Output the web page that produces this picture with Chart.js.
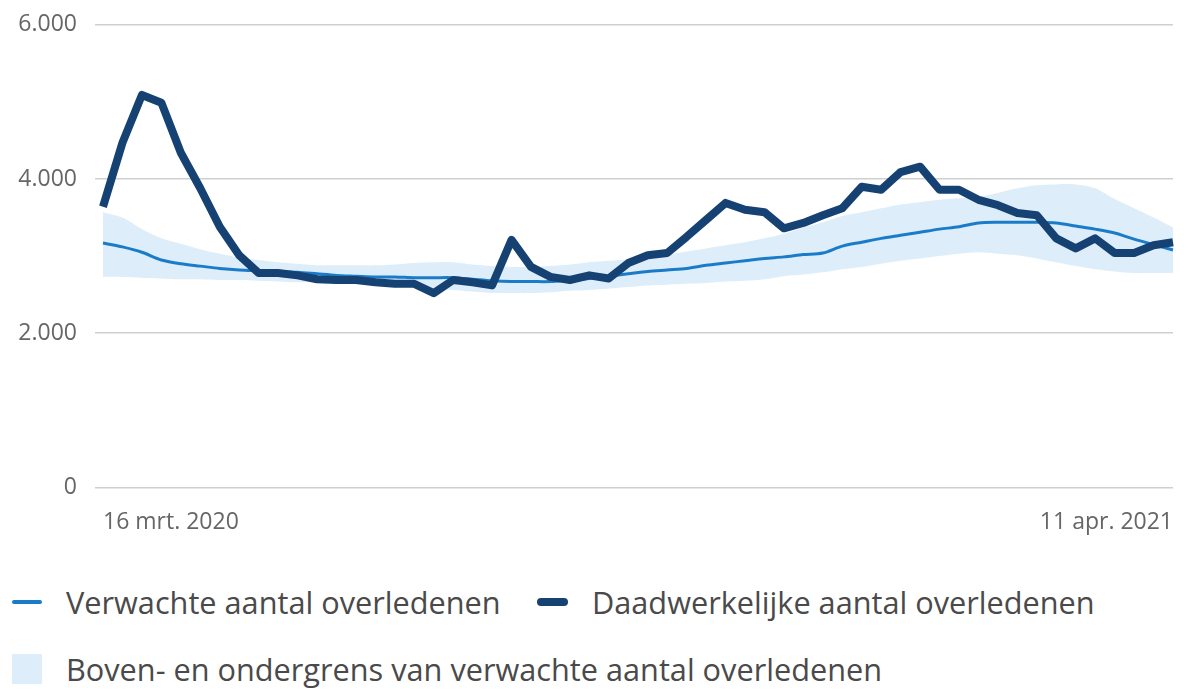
<!DOCTYPE html>
<html lang="nl">
<head>
    <meta charset="UTF-8">
    <title>Verwachte en daadwerkelijke aantal overledenen</title>
    <script src="https://cdn.jsdelivr.net/npm/chart.js"></script>
    <style>
        html, body { margin: 0; padding: 0; background: #fff; }
        body { width: 1186px; height: 691px; position: relative; overflow: hidden; font-family: "Open Sans", sans-serif; }
        #chart-wrap { position: absolute; left: 0; top: -7px; width: 1186px; height: 562px; }
        .legend { position: absolute; left: 0; color: #4a4a4a; font-size: 30.7px; }
        .legend-item { position: absolute; white-space: nowrap; display: flex; align-items: center; }
        .swatch { display: inline-block; margin-right: 24px; }
    </style>
</head>
<body>
    <div id="chart-wrap"><canvas id="deaths-chart"></canvas></div>

    <div class="legend">
        <div class="legend-item" style="left:12px; top:581px;">
            <span class="swatch" style="width:30px;height:4px;border-radius:2px;background:#1a7cc9;"></span>Verwachte aantal overledenen
        </div>
        <div class="legend-item" style="left:537px; top:581px;">
            <span class="swatch" style="width:31px;height:8px;border-radius:4px;background:#154273;"></span>Daadwerkelijke aantal overledenen
        </div>
        <div class="legend-item" style="left:12px; top:648px;">
            <span class="swatch" style="width:30px;height:30px;background:#ddeefa;"></span>Boven- en ondergrens van verwachte aantal overledenen
        </div>
    </div>

    <script>
        // weekly data, week 12 2020 (16 mrt.) t/m week 14 2021 (11 apr.)
        const weekLabels = [];
        const startDate = new Date(2020, 2, 16);
        const months = ['jan.', 'feb.', 'mrt.', 'apr.', 'mei', 'jun.', 'jul.', 'aug.', 'sep.', 'okt.', 'nov.', 'dec.'];
        for (let i = 0; i < 56; i++) {
            const d = new Date(startDate.getTime() + i * 7 * 86400000);
            weekLabels.push(d.getDate() + ' ' + months[d.getMonth()] + ' ' + d.getFullYear());
        }
        weekLabels[55] = '11 apr. 2021';

        const actualDeaths = [3640, 4470, 5090, 4990, 4340, 3880, 3380, 3010, 2780, 2780,
            2750, 2700, 2690, 2690, 2660, 2640, 2640, 2520, 2690, 2660,
            2620, 3210, 2860, 2730, 2690, 2750, 2710, 2910, 3010, 3040,
            3250, 3470, 3690, 3600, 3570, 3360, 3430, 3530, 3620, 3900,
            3860, 4090, 4160, 3860, 3860, 3730, 3660, 3560, 3530, 3230,
            3100, 3230, 3040, 3040, 3140, 3180];

        const expectedDeaths = [3170, 3120, 3050, 2950, 2900, 2870, 2840, 2820, 2810, 2800,
            2790, 2770, 2750, 2740, 2730, 2730, 2720, 2720, 2720, 2700,
            2680, 2670, 2670, 2670, 2690, 2710, 2740, 2770, 2800, 2820,
            2840, 2880, 2910, 2940, 2970, 2990, 3020, 3040, 3130, 3180,
            3230, 3270, 3310, 3350, 3380, 3430, 3440, 3440, 3440, 3430,
            3390, 3350, 3300, 3220, 3150, 3080];

        const upperBound = [3570, 3500, 3350, 3230, 3160, 3090, 3030, 2980, 2950, 2920,
            2900, 2880, 2880, 2880, 2880, 2890, 2910, 2920, 2920, 2890,
            2870, 2860, 2860, 2870, 2890, 2920, 2940, 2960, 2990, 3020,
            3060, 3100, 3140, 3180, 3230, 3290, 3370, 3440, 3520, 3570,
            3620, 3670, 3700, 3730, 3750, 3770, 3820, 3880, 3920, 3930,
            3930, 3880, 3740, 3620, 3500, 3370];

        const lowerBound = [2730, 2730, 2720, 2710, 2700, 2700, 2690, 2690, 2680, 2670,
            2660, 2660, 2650, 2640, 2630, 2620, 2600, 2580, 2560, 2540,
            2520, 2520, 2520, 2530, 2550, 2560, 2580, 2600, 2620, 2630,
            2640, 2650, 2670, 2680, 2700, 2740, 2760, 2790, 2830, 2860,
            2900, 2940, 2970, 3000, 3030, 3050, 3030, 3010, 2970, 2920,
            2870, 2830, 2800, 2780, 2780, 2780];

        const yTicks = [0, 2000, 4000, 6000];

        function formatThousands(v) {
            return String(v).replace(/\B(?=(\d{3})+(?!\d))/g, '.');
        }

        const ctx = document.getElementById('deaths-chart').getContext('2d');
        new Chart(ctx, {
            type: 'line',
            data: {
                labels: weekLabels,
                datasets: [
                    {
                        label: 'Daadwerkelijke aantal overledenen',
                        data: actualDeaths,
                        borderColor: '#154273',
                        borderWidth: 8,
                        borderJoinStyle: 'round',
                        borderCapStyle: 'butt',
                        pointRadius: 0,
                        tension: 0,
                        fill: false
                    },
                    {
                        label: 'Verwachte aantal overledenen',
                        data: expectedDeaths,
                        borderColor: '#1a7cc9',
                        borderWidth: 3,
                        pointRadius: 0,
                        tension: 0.3,
                        fill: false
                    },
                    {
                        label: 'Bovengrens',
                        data: upperBound,
                        borderWidth: 0,
                        borderColor: 'rgba(0,0,0,0)',
                        backgroundColor: '#ddeefa',
                        pointRadius: 0,
                        tension: 0.3,
                        fill: '+1'
                    },
                    {
                        label: 'Ondergrens',
                        data: lowerBound,
                        borderWidth: 0,
                        borderColor: 'rgba(0,0,0,0)',
                        pointRadius: 0,
                        tension: 0.3,
                        fill: false
                    }
                ]
            },
            options: {
                responsive: true,
                maintainAspectRatio: false,
                animation: false,
                layout: { padding: { top: 5, right: 2, left: 8, bottom: 6 } },
                plugins: {
                    legend: { display: false },
                    tooltip: { enabled: false }
                },
                scales: {
                    x: {
                        offset: false,
                        grid: { display: false },
                        border: { display: false },
                        ticks: {
                            autoSkip: false,
                            maxRotation: 0,
                            align: 'inner',
                            padding: 13,
                            color: '#666',
                            font: { family: 'Open Sans', size: 23 },
                            callback: function (value, index) {
                                return (index === 0 || index === weekLabels.length - 1) ? weekLabels[index] : '';
                            }
                        }
                    },
                    y: {
                        min: 0,
                        max: 6000,
                        afterBuildTicks: function (scale) {
                            scale.ticks = yTicks.map(v => ({ value: v }));
                        },
                        afterFit: function (scale) {
                            scale.width = 95;
                        },
                        grid: {
                            color: '#cfcfcf',
                            lineWidth: 1.5,
                            drawTicks: true,
                            tickLength: 8
                        },
                        border: { display: false },
                        ticks: {
                            padding: 18,
                            color: '#666',
                            font: { family: 'Open Sans', size: 23 },
                            callback: function (value) {
                                return formatThousands(value);
                            }
                        }
                    }
                }
            }
        });
    </script>
</body>
</html>
